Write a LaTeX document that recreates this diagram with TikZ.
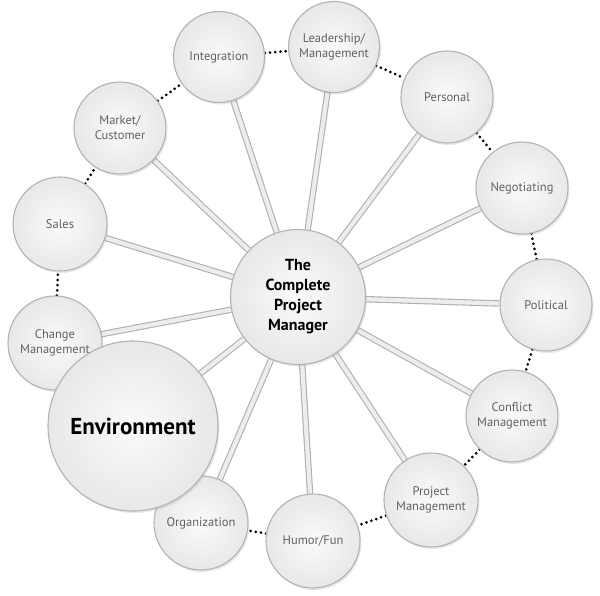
\documentclass[tikz,border=0pt]{standalone}
\usepackage{fontspec}
\setmainfont{PT Sans}
\usetikzlibrary{shadows,backgrounds}

\tikzset{
  ball/.style={circle,inner sep=0pt,align=center,draw=gray!60,line width=1.1pt,
    inner color=gray!4,outer color=gray!18,text=black!62,
    drop shadow={opacity=0.18,shadow xshift=1.5pt,shadow yshift=-2pt},
    font=\fontsize{12.5}{15}\selectfont},
  spoke/.style={draw=gray!62,line width=1.1pt,double=gray!14,double distance=4.2pt},
  dotlink/.style={line width=3pt,line cap=round,dash pattern=on 0pt off 5.2pt,black}
}

\begin{document}
\begin{tikzpicture}[x=1pt,y=-1pt]
\path[use as bounding box] (0,0) rectangle (600,595);
% outer ring
\node[ball,minimum size=91pt] (integ) at (219,57) {Integration};
\node[ball,minimum size=91pt] (lead) at (334,47) {Leadership/\\Management};
\node[ball,minimum size=92pt] (pers) at (447,97) {Personal};
\node[ball,minimum size=92pt] (nego) at (522,188) {Negotiating};
\node[ball,minimum size=92pt] (polit) at (546,305) {Political};
\node[ball,minimum size=92pt] (confl) at (512,416) {Conflict\\Management};
\node[ball,minimum size=94pt] (projm) at (431,500) {Project\\Management};
\node[ball,minimum size=94pt] (humor) at (313,541) {Humor/Fun};
\node[ball,minimum size=94pt] (organ) at (201,523) {Organization};
\node[ball,minimum size=94pt] (chng) at (55,343) {Change\\Management};
\node[ball,minimum size=94pt] (sales) at (60,224) {Sales};
\node[ball,minimum size=92pt] (market) at (120,128) {Market/\\Customer};
\node[ball,minimum size=170pt,text=black,font=\fontsize{23}{27}\selectfont\bfseries] (env) at (133,426) {Environment};
% hub
\node[ball,minimum size=135pt,text=black,font=\fontsize{16}{20}\selectfont\bfseries] (pm) at (298,297) {The\\Complete\\Project\\Manager};
% spokes and dots behind
\begin{scope}[on background layer]
\foreach \n in {integ,lead,pers,nego,polit,confl,projm,humor,organ,env,chng,sales,market}
  \draw[spoke] (pm) -- (\n);
\draw[dotlink] (integ) -- (lead);
\draw[dotlink] (lead) -- (pers);
\draw[dotlink] (pers) -- (nego);
\draw[dotlink] (nego) -- (polit);
\draw[dotlink] (polit) -- (confl);
\draw[dotlink] (confl) -- (projm);
\draw[dotlink] (projm) -- (humor);
\draw[dotlink] (humor) -- (organ);
\draw[dotlink] (chng) -- (sales);
\draw[dotlink] (sales) -- (market);
\draw[dotlink] (market) -- (integ);
\end{scope}
\end{tikzpicture}
\end{document}
